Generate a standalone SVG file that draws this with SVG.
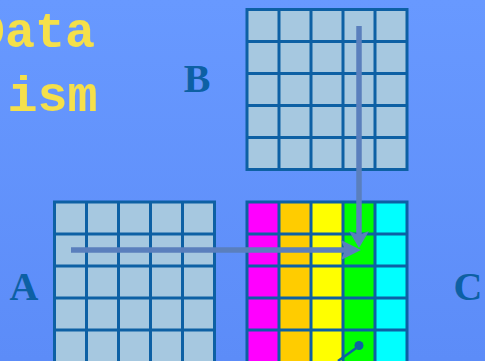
<svg xmlns="http://www.w3.org/2000/svg" width="485" height="361" viewBox="0 0 485 361">
<defs>
<linearGradient id="bg" x1="0" y1="0" x2="0" y2="1">
<stop offset="0" stop-color="#6899ff"/>
<stop offset="1" stop-color="#5c8cf8"/>
</linearGradient>
</defs>
<style>
.title{font-family:"Courier New","Liberation Mono",monospace;font-weight:bold;font-size:50px;fill:#f5e04a}
.lbl{font-family:"Liberation Serif","Times New Roman",serif;font-weight:bold;font-size:40px;fill:#0d60a4}
.cell{fill:#a6c8e0}
.gl{stroke:#0d60a4;stroke-width:3;fill:none}
.arrow{stroke:#5a7fbd;stroke-width:5.5;fill:none}
.head{fill:#5a7fbd}
</style>
<rect width="485" height="361" fill="url(#bg)"/>
<text class="title" x="-25" y="47">Data</text>
<text class="title" x="7.5" y="111">ism</text>
<g id="matrixB">
<rect class="cell" x="247" y="9.5" width="160" height="160"/>
<path class="gl" d="M247 9.5H407V169.5H247Z M279 9.5V169.5 M311 9.5V169.5 M343 9.5V169.5 M375 9.5V169.5 M247 41.5H407 M247 73.5H407 M247 105.5H407 M247 137.5H407"/>
<text class="lbl" x="197" y="92" text-anchor="middle">B</text>
</g>
<g id="matrixA">
<rect class="cell" x="54.5" y="202" width="160" height="165"/>
<path class="gl" d="M54.5 202H214.5V370H54.5Z M86.5 202V370 M118.5 202V370 M150.5 202V370 M182.5 202V370 M54.5 234H214.5 M54.5 266H214.5 M54.5 298H214.5 M54.5 330H214.5"/>
<text class="lbl" x="24" y="300" text-anchor="middle">A</text>
</g>
<g id="matrixC">
<rect x="247" y="202" width="32" height="165" fill="#ff00ff"/>
<rect x="279" y="202" width="32" height="165" fill="#ffcc00"/>
<rect x="311" y="202" width="32" height="165" fill="#ffff00"/>
<rect x="343" y="202" width="32" height="165" fill="#00ff00"/>
<rect x="375" y="202" width="32" height="165" fill="#00ffff"/>
<path class="gl" d="M247 202H407V370H247Z M279 202V370 M311 202V370 M343 202V370 M375 202V370 M247 234H407 M247 266H407 M247 298H407 M247 330H407"/>
<text class="lbl" x="468" y="300" text-anchor="middle">C</text>
</g>
<g id="connectors">
<path class="arrow" d="M71 250H346"/>
<polygon class="head" points="361,250 341,240 345,250 341,260"/>
<path class="arrow" d="M359 26V236"/>
<polygon class="head" points="359,248 349,231 359,235 369,231"/>
<path d="M338 361L359 346" stroke="#0d60a4" stroke-width="2.5" fill="none"/>
<circle cx="359" cy="345.5" r="4.5" fill="#0d60a4"/>
</g>
</svg>
